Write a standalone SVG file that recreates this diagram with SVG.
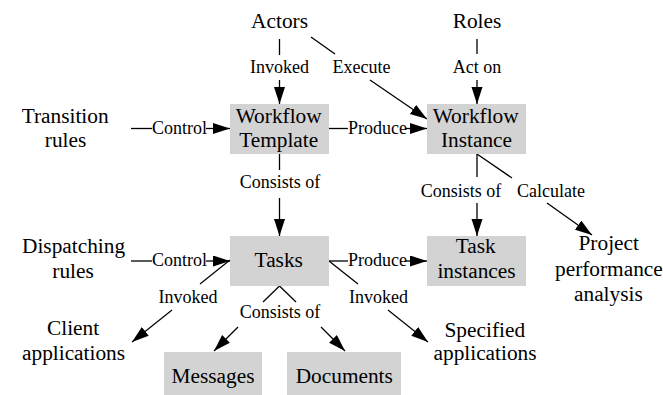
<svg xmlns="http://www.w3.org/2000/svg" width="663" height="395" viewBox="0 0 663 395">
  <defs>
    <marker id="head" markerUnits="userSpaceOnUse" markerWidth="18" markerHeight="12" refX="17" refY="5.5" orient="auto">
      <path d="M0,0 L17,5.5 L0,11 z" fill="#000"/>
    </marker>
  </defs>
  <rect width="663" height="395" fill="#fff"/>

  <!-- connectors -->
  <g id="edges" stroke="#000" stroke-width="1.3" fill="none">
    <!-- Actors -> Workflow Template -->
    <line x1="279.5" y1="39" x2="279.5" y2="55"/>
    <line marker-end="url(#head)" x1="279.5" y1="80" x2="279.5" y2="104"/>
    <!-- Actors -> Workflow Instance -->
    <line x1="311" y1="37" x2="335" y2="54"/>
    <line marker-end="url(#head)" x1="370" y1="80" x2="427" y2="119"/>
    <!-- Roles -> Workflow Instance -->
    <line x1="477" y1="39" x2="477" y2="54"/>
    <line marker-end="url(#head)" x1="477" y1="80" x2="477" y2="104"/>
    <!-- Transition rules -> Workflow Template -->
    <line x1="131" y1="128.5" x2="152" y2="128.5"/>
    <line marker-end="url(#head)" x1="206" y1="128.5" x2="230" y2="128.5"/>
    <!-- Workflow Template -> Workflow Instance -->
    <line x1="329" y1="128.5" x2="348" y2="128.5"/>
    <line marker-end="url(#head)" x1="406" y1="128.5" x2="427" y2="128.5"/>
    <!-- Workflow Template -> Tasks -->
    <line x1="279.5" y1="154" x2="279.5" y2="170"/>
    <line marker-end="url(#head)" x1="279.5" y1="198" x2="279.5" y2="236"/>
    <!-- Workflow Instance -> Task instances -->
    <line x1="477" y1="154" x2="477" y2="177"/>
    <line marker-end="url(#head)" x1="477" y1="203" x2="477" y2="236"/>
    <!-- Workflow Instance -> Project performance analysis -->
    <line x1="477" y1="154" x2="512" y2="178"/>
    <line marker-end="url(#head)" x1="547" y1="203" x2="592" y2="235"/>
    <!-- Dispatching rules -> Tasks -->
    <line x1="131" y1="261" x2="152" y2="261"/>
    <line marker-end="url(#head)" x1="206" y1="261" x2="230" y2="261"/>
    <!-- Tasks -> Task instances -->
    <line x1="329" y1="261" x2="348" y2="261"/>
    <line marker-end="url(#head)" x1="406" y1="261" x2="427" y2="261"/>
    <!-- Tasks -> Client applications -->
    <line x1="230" y1="260" x2="200" y2="284"/>
    <line marker-end="url(#head)" x1="172" y1="310" x2="132" y2="342"/>
    <!-- Tasks -> Specified applications -->
    <line x1="329" y1="261" x2="358" y2="284"/>
    <line marker-end="url(#head)" x1="388" y1="310" x2="428" y2="342"/>
    <!-- Tasks -> Messages / Documents -->
    <line x1="279.5" y1="286" x2="263" y2="302"/>
    <line x1="279.5" y1="286" x2="296" y2="302"/>
    <line marker-end="url(#head)" x1="238" y1="327" x2="214" y2="351"/>
    <line marker-end="url(#head)" x1="321" y1="327" x2="345" y2="351"/>
  </g>

  <!-- edge labels (left-aligned starts) -->
  <g id="edge-labels">
    <text font-family="'Liberation Serif'" font-size="18" x="250" y="73">Invoked</text>
    <text font-family="'Liberation Serif'" font-size="18" x="332.5" y="73">Execute</text>
    <text font-family="'Liberation Serif'" font-size="18" x="452.8" y="73">Act on</text>
    <text font-family="'Liberation Serif'" font-size="18" x="152" y="134">Control</text>
    <text font-family="'Liberation Serif'" font-size="18" x="348" y="134">Produce</text>
    <text font-family="'Liberation Serif'" font-size="18" x="239.7" y="188">Consists of</text>
    <text font-family="'Liberation Serif'" font-size="18" x="420.7" y="197">Consists of</text>
    <text font-family="'Liberation Serif'" font-size="18" x="517" y="197">Calculate</text>
    <text font-family="'Liberation Serif'" font-size="18" x="152" y="266">Control</text>
    <text font-family="'Liberation Serif'" font-size="18" x="348" y="266">Produce</text>
    <text font-family="'Liberation Serif'" font-size="18" x="158.5" y="303">Invoked</text>
    <text font-family="'Liberation Serif'" font-size="18" x="349" y="303">Invoked</text>
    <text font-family="'Liberation Serif'" font-size="18" x="239.7" y="318">Consists of</text>
  </g>

  <!-- nodes -->
  <g id="actors"><text font-family="'Liberation Serif'" font-size="21.33" x="251.1" y="28">Actors</text></g>
  <g id="roles"><text font-family="'Liberation Serif'" font-size="21.33" x="452.7" y="28">Roles</text></g>
  <g id="transition-rules">
    <text font-family="'Liberation Serif'" font-size="21.33" x="21.7" y="123">Transition</text>
    <text font-family="'Liberation Serif'" font-size="21.33" x="44.8" y="147">rules</text>
  </g>
  <g id="workflow-template">
    <rect fill="#d3d3d3" x="230" y="104" width="99" height="50"/>
    <text font-family="'Liberation Serif'" font-size="21.33" x="235.7" y="123">Workflow</text>
    <text font-family="'Liberation Serif'" font-size="21.33" x="239.2" y="147">Template</text>
  </g>
  <g id="workflow-instance">
    <rect fill="#d3d3d3" x="427" y="104" width="99" height="50"/>
    <text font-family="'Liberation Serif'" font-size="21.33" x="432.7" y="123">Workflow</text>
    <text font-family="'Liberation Serif'" font-size="21.33" x="441" y="147">Instance</text>
  </g>
  <g id="dispatching-rules">
    <text font-family="'Liberation Serif'" font-size="21.33" x="22" y="253">Dispatching</text>
    <text font-family="'Liberation Serif'" font-size="21.33" x="52.3" y="278">rules</text>
  </g>
  <g id="tasks">
    <rect fill="#d3d3d3" x="230" y="236" width="99" height="50"/>
    <text font-family="'Liberation Serif'" font-size="21.33" x="254.6" y="267">Tasks</text>
  </g>
  <g id="task-instances">
    <rect fill="#d3d3d3" x="427" y="236" width="99" height="50"/>
    <text font-family="'Liberation Serif'" font-size="21.33" x="455.8" y="253">Task</text>
    <text font-family="'Liberation Serif'" font-size="21.33" x="437.4" y="278">instances</text>
  </g>
  <g id="project-performance-analysis">
    <text font-family="'Liberation Serif'" font-size="21.33" x="578.5" y="250">Project</text>
    <text font-family="'Liberation Serif'" font-size="21.33" x="555" y="276">performance</text>
    <text font-family="'Liberation Serif'" font-size="21.33" x="574" y="301">analysis</text>
  </g>
  <g id="client-applications">
    <text font-family="'Liberation Serif'" font-size="21.33" x="47" y="335">Client</text>
    <text font-family="'Liberation Serif'" font-size="21.33" x="22" y="360">applications</text>
  </g>
  <g id="specified-applications">
    <text font-family="'Liberation Serif'" font-size="21.33" x="444.5" y="337">Specified</text>
    <text font-family="'Liberation Serif'" font-size="21.33" x="433.5" y="360">applications</text>
  </g>
  <g id="messages">
    <rect fill="#d3d3d3" x="164" y="352" width="98" height="50"/>
    <text font-family="'Liberation Serif'" font-size="21.33" x="171.5" y="383">Messages</text>
  </g>
  <g id="documents">
    <rect fill="#d3d3d3" x="287" y="352" width="114" height="50"/>
    <text font-family="'Liberation Serif'" font-size="21.33" x="295.7" y="383">Documents</text>
  </g>
</svg>
